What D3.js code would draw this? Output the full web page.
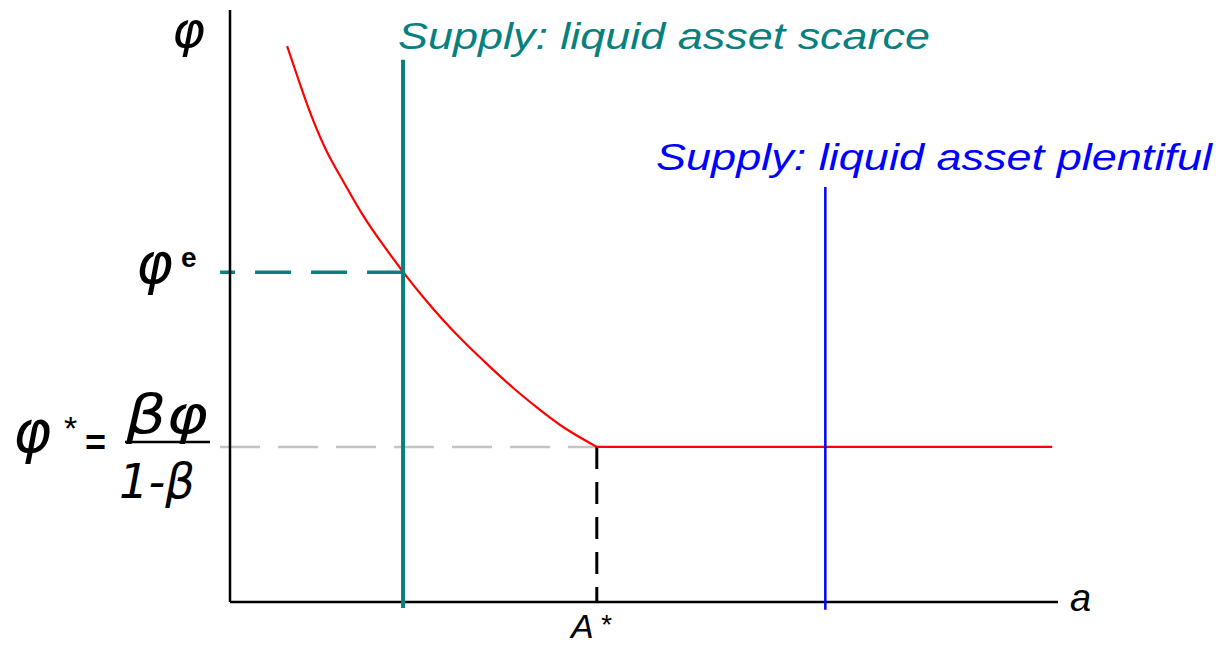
<!DOCTYPE html>
<html lang="en">
<head>
<meta charset="UTF-8">
<title>Liquid asset supply and demand</title>
<script src="https://d3js.org/d3.v7.min.js"></script>
<style>
html,body{margin:0;padding:0;background:#fff}
svg{display:block}
.lbl{font-family:"Liberation Sans",Arial,sans-serif;font-style:italic}
.sym{font-family:"DejaVu Sans",sans-serif;font-style:italic}
</style>
</head>
<body>
<div id="chart"></div>
<script>
// demand curve (a, phi) in axis units 0..100
var demandA   = [6.9, 8.8, 10.0, 11.7, 13.6, 16.1, 18.5, 20.9, 23.3, 25.7, 28.6, 31.4, 34.2, 37.1, 40.2, 44.3];
var demandPhi = [93.9, 86.0, 81.4, 75.8, 71.3, 65.0, 60.3, 55.7, 51.5, 47.6, 43.4, 39.7, 36.1, 32.8, 29.4, 26.2];
var flatEndA = 99.3;

var supplyScarceA = 20.9, supplyScarceTop = 91.6;
var supplyPlentyA = 71.9, supplyPlentyTop = 70.1;
var phiE = 55.7;
var phiStar = 26.2;
var aStar = 44.3;

var W = 1218, H = 645;
var x = d3.scaleLinear().domain([0, 100]).range([230, 1058]);
var y = d3.scaleLinear().domain([0, 100]).range([602, 10]);

var svg = d3.select('#chart').append('svg').attr('width', W).attr('height', H);

var teal = '#078080', blue = '#0000ff', red = '#ff0000';
var sans = '"Liberation Sans",Arial,sans-serif';

// guide lines
svg.append('line')
  .attr('x1', x(-1.2)).attr('x2', x(aStar)).attr('y1', y(phiStar)).attr('y2', y(phiStar))
  .attr('stroke', '#c4c4c4').attr('stroke-width', 2.5).attr('stroke-dasharray', '40,18');

svg.append('line')
  .attr('x1', x(aStar)).attr('x2', x(aStar)).attr('y1', y(phiStar)).attr('y2', y(0))
  .attr('stroke', '#000').attr('stroke-width', 3).attr('stroke-dasharray', '22,13');

svg.append('line')
  .attr('x1', x(supplyScarceA)).attr('x2', x(-1.2)).attr('y1', y(phiE)).attr('y2', y(phiE))
  .attr('stroke', teal).attr('stroke-width', 3.5).attr('stroke-dasharray', '36,20');

// axes
svg.append('line').attr('x1', x(0)).attr('x2', x(0)).attr('y1', y(100)).attr('y2', y(0))
  .attr('stroke', '#000').attr('stroke-width', 2.5);
svg.append('line').attr('x1', x(0)).attr('x2', x(100)).attr('y1', y(0)).attr('y2', y(0))
  .attr('stroke', '#000').attr('stroke-width', 2.5);

// demand
var pts = demandA.map(function(a, i) { return [a, demandPhi[i]]; });
var line = d3.line().x(function(d) { return x(d[0]); }).y(function(d) { return y(d[1]); });
svg.append('path').attr('d', line.curve(d3.curveBasis)(pts))
  .attr('fill', 'none').attr('stroke', red).attr('stroke-width', 2.2);
svg.append('path').attr('d', line.curve(d3.curveLinear)([[aStar, phiStar], [flatEndA, phiStar]]))
  .attr('fill', 'none').attr('stroke', red).attr('stroke-width', 2.2);

// supply lines
svg.append('line').attr('x1', x(supplyScarceA)).attr('x2', x(supplyScarceA))
  .attr('y1', y(supplyScarceTop)).attr('y2', y(-1))
  .attr('stroke', teal).attr('stroke-width', 4);
svg.append('line').attr('x1', x(supplyPlentyA)).attr('x2', x(supplyPlentyA))
  .attr('y1', y(supplyPlentyTop)).attr('y2', y(-1.3))
  .attr('stroke', blue).attr('stroke-width', 2.5);

// labels
svg.append('text').attr('class', 'lbl').attr('x', 398).attr('y', 49)
  .attr('font-size', 37).attr('fill', teal).attr('textLength', 532).attr('lengthAdjust', 'spacingAndGlyphs')
  .text('Supply: liquid asset scarce');
svg.append('text').attr('class', 'lbl').attr('x', 656).attr('y', 170)
  .attr('font-size', 37).attr('fill', blue).attr('textLength', 556).attr('lengthAdjust', 'spacingAndGlyphs')
  .text('Supply: liquid asset plentiful');

svg.append('text').attr('class', 'sym').attr('x', 172).attr('y', 47)
  .attr('font-size', 50).text('φ');

var pe = svg.append('text').attr('class', 'sym').attr('x', 136).attr('y', 283)
  .attr('font-size', 56);
pe.append('tspan').text('φ');
pe.append('tspan').attr('font-size', 28).attr('font-weight', 'bold').attr('font-style', 'normal')
  .attr('font-family', sans).attr('dx', 8).attr('dy', -16).text('e');

svg.append('text').attr('class', 'sym').attr('x', 13).attr('y', 452)
  .attr('font-size', 58).text('φ');
svg.append('text').attr('x', 64).attr('y', 440).attr('font-size', 34)
  .attr('font-family', sans).text('*');
svg.append('text').attr('x', 85).attr('y', 455).attr('font-size', 36).attr('font-weight', 'bold')
  .attr('font-family', sans).text('=');
svg.append('line').attr('x1', 125).attr('x2', 210).attr('y1', 442).attr('y2', 442)
  .attr('stroke', '#000').attr('stroke-width', 2.5);
svg.append('text').attr('class', 'sym').attr('x', 126).attr('y', 433)
  .attr('font-size', 54).attr('textLength', 82).attr('lengthAdjust', 'spacingAndGlyphs').text('βφ');
svg.append('text').attr('class', 'sym').attr('x', 119).attr('y', 498)
  .attr('font-size', 48).attr('textLength', 76).attr('lengthAdjust', 'spacingAndGlyphs').text('1-β');

svg.append('text').attr('class', 'lbl').attr('x', 571).attr('y', 638)
  .attr('font-size', 34).text('A');
svg.append('text').attr('class', 'lbl').attr('x', 600).attr('y', 634)
  .attr('font-size', 28).attr('font-style', 'normal').text('*');
svg.append('text').attr('class', 'lbl').attr('x', 1070).attr('y', 611)
  .attr('font-size', 38).text('a');
</script>
</body>
</html>
